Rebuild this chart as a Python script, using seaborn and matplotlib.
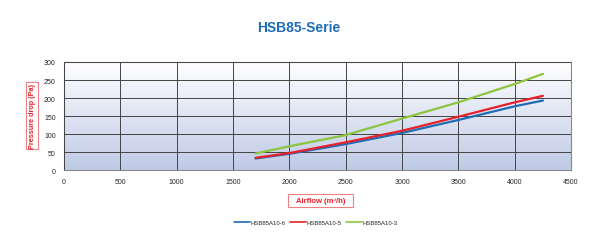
import numpy as np
import pandas as pd
import matplotlib
matplotlib.use("Agg")
import matplotlib.pyplot as plt
import seaborn as sns
from matplotlib.colors import LinearSegmentedColormap
from matplotlib.patches import Rectangle

airflow = [1700, 2000, 2500, 3000, 3500, 4000, 4250]
a10_6 = [32, 45, 72, 103, 139, 177, 193]
a10_5 = [34, 47, 77, 109, 148, 188, 206]
a10_3 = [46, 66, 97, 143, 188, 239, 267]
series_names = ["HSB85A10-6", "HSB85A10-5", "HSB85A10-3"]
colors = ["#1f6db5", "#e8202a", "#8cc63f"]
x_ticks = [0, 500, 1000, 1500, 2000, 2500, 3000, 3500, 4000, 4500]
y_ticks = [0, 50, 100, 150, 200, 250, 300]

rows = []
for name, vals in zip(series_names, [a10_6, a10_5, a10_3]):
    for x, y in zip(airflow, vals):
        rows.append({"Airflow": x, "Pressure": y, "Series": name})
df = pd.DataFrame(rows)

sns.set_style("white")
plt.rcParams['font.family'] = ['Liberation Sans Narrow', 'Liberation Sans', 'DejaVu Sans']

fig = plt.figure(figsize=(5.98, 2.53), dpi=100)
ax = fig.add_axes([0.107, 0.324, 0.848, 0.427])

cmap = LinearSegmentedColormap.from_list("bg", ["#ffffff", "#bfcae6"])
grad = np.linspace(0, 1, 256).reshape(-1, 1)
ax.imshow(grad, cmap=cmap, aspect="auto", extent=[0, 4500, 0, 300], origin="upper", zorder=0)

sns.lineplot(data=df, x="Airflow", y="Pressure", hue="Series", palette=colors,
             linewidth=1.6, ax=ax, legend=False, zorder=3)

ax.set_xlim(0, 4500)
ax.set_ylim(0, 300)
ax.set_xticks(x_ticks)
ax.set_yticks(y_ticks)
ax.grid(True, color="#444444", linewidth=0.7, zorder=1)
ax.set_axisbelow(False)
for s in ax.spines.values():
    s.set_color("#888888")
    s.set_linewidth(0.8)
ax.tick_params(axis="both", labelsize=5, length=2, color="#333333", pad=4)
ax.set_xlabel("")
ax.set_ylabel("")

fig.text(0.5, 0.89, "HSB85-Serie", ha="center", va="center", color="#1f6db5",
         fontsize=10, fontweight="bold")

# label boxes (figure coords)
fig.patches.append(Rectangle((288/598, 1 - 208/253), 65/598, 13/253, transform=fig.transFigure,
                             facecolor="white", edgecolor="#f08080", linewidth=0.8))
fig.text(320.5/598, 1 - 201.5/253, "Airflow (m³/h)", ha="center", va="center", color="#e8202a",
         fontsize=5.5, fontweight="bold")
fig.patches.append(Rectangle((26/598, 1 - 150/253), 12/598, 67/253, transform=fig.transFigure,
                             facecolor="white", edgecolor="#f08080", linewidth=0.8))
fig.text(32/598, 1 - 116.5/253, "Pressure drop (Pa)", ha="center", va="center", rotation=90,
         color="#e8202a", fontsize=5.2, fontweight="bold")

handles = [plt.Line2D([0], [0], color=c, linewidth=1.2) for c in colors]
fig.legend(handles, series_names, loc="center", bbox_to_anchor=(316/598, 1 - 223/253), ncol=3,
           frameon=False, fontsize=4.3, handlelength=2.6, handletextpad=0.1, columnspacing=0.8)

fig.savefig("out.png", dpi=100)
